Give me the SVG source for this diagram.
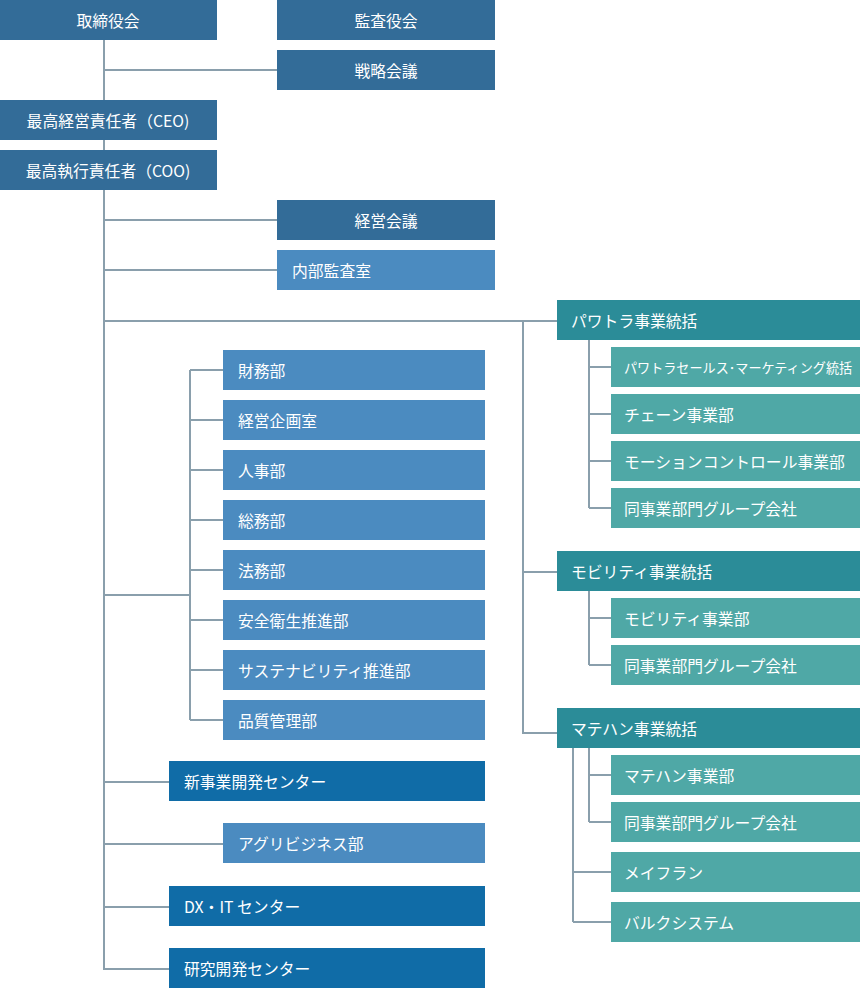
<svg xmlns="http://www.w3.org/2000/svg" width="860" height="990" viewBox="0 0 860 990">
<style>
text{font-family:"Noto Sans CJK JP","Noto Sans",sans-serif;font-size:15.8px;fill:#fff;dominant-baseline:central}
.c{text-anchor:middle}
.d{fill:#336c98}
.m{fill:#4b8bc0}
.k{fill:#106ca7}
.t{fill:#2b8c98}
.l{fill:#4fa8a6}
#conn path{fill:none;stroke:#8a9fac;stroke-width:2}
</style>
<rect width="860" height="990" fill="#fff"/>
<g id="conn">
<path d="M104 40V970M104 70H277M104 220H277M104 270H277M104 321H557M523 321V733H557M523 572H557"/>
<path d="M104 595H190M190 370V720M190 370H223M190 420H223M190 470H223M190 520H223M190 570H223M190 620H223M190 670H223M190 720H223"/>
<path d="M104 782H169M104 844H223M104 907H169M104 969H169"/>
<path d="M589 340V508M589 367H611M589 414H611M589 461H611M589 508H611"/>
<path d="M589 591V665M589 618H611M589 665H611"/>
<path d="M589 748V822M589 775H611M589 822H611M573 748V922M573 872H611M573 922H611"/>
</g>
<g id="board"><rect class="d" x="0" y="0" width="217" height="40"/><text class="c" x="108" y="20">取締役会</text></g>
<g id="audit"><rect class="d" x="277" y="0" width="218" height="40"/><text class="c" x="386" y="20">監査役会</text></g>
<g id="strategy"><rect class="d" x="277" y="50" width="218" height="40"/><text class="c" x="386" y="70">戦略会議</text></g>
<g id="ceo"><rect class="d" x="0" y="100" width="217" height="40"/><text class="c" x="108" y="120">最高経営責任者（CEO)</text></g>
<g id="coo"><rect class="d" x="0" y="150" width="217" height="40"/><text class="c" x="108" y="170">最高執行責任者（COO)</text></g>
<g id="mgmt"><rect class="d" x="277" y="200" width="218" height="40"/><text class="c" x="386" y="220">経営会議</text></g>
<g id="internal"><rect class="m" x="277" y="250" width="218" height="40"/><text x="292" y="270">内部監査室</text></g>
<g id="s1"><rect class="m" x="223" y="350" width="262" height="40"/><text x="238" y="370">財務部</text></g>
<g id="s2"><rect class="m" x="223" y="400" width="262" height="40"/><text x="238" y="420">経営企画室</text></g>
<g id="s3"><rect class="m" x="223" y="450" width="262" height="40"/><text x="238" y="470">人事部</text></g>
<g id="s4"><rect class="m" x="223" y="500" width="262" height="40"/><text x="238" y="520">総務部</text></g>
<g id="s5"><rect class="m" x="223" y="550" width="262" height="40"/><text x="238" y="570">法務部</text></g>
<g id="s6"><rect class="m" x="223" y="600" width="262" height="40"/><text x="238" y="620">安全衛生推進部</text></g>
<g id="s7"><rect class="m" x="223" y="650" width="262" height="40"/><text x="238" y="670">サステナビリティ推進部</text></g>
<g id="s8"><rect class="m" x="223" y="700" width="262" height="40"/><text x="238" y="720">品質管理部</text></g>
<g id="newbiz"><rect class="k" x="169" y="761" width="316" height="40"/><text x="184" y="781">新事業開発センター</text></g>
<g id="agri"><rect class="m" x="223" y="823" width="262" height="40"/><text x="238" y="843">アグリビジネス部</text></g>
<g id="dx"><rect class="k" x="169" y="886" width="316" height="40"/><text x="184" y="906">DX・IT センター</text></g>
<g id="rd"><rect class="k" x="169" y="948" width="316" height="40"/><text x="184" y="968">研究開発センター</text></g>
<g id="pt"><rect class="t" x="557" y="300" width="303" height="40"/><text x="571" y="320">パワトラ事業統括</text></g>
<g id="pt1"><rect class="l" x="611" y="347" width="249" height="40"/><text x="624" y="367" style="font-size:13.1px">パワトラセールス･マーケティング統括</text></g>
<g id="pt2"><rect class="l" x="611" y="394" width="249" height="40"/><text x="624" y="414">チェーン事業部</text></g>
<g id="pt3"><rect class="l" x="611" y="441" width="249" height="40"/><text x="624" y="461">モーションコントロール事業部</text></g>
<g id="pt4"><rect class="l" x="611" y="488" width="249" height="40"/><text x="624" y="508">同事業部門グループ会社</text></g>
<g id="mb"><rect class="t" x="557" y="551" width="303" height="40"/><text x="571" y="571">モビリティ事業統括</text></g>
<g id="mb1"><rect class="l" x="611" y="598" width="249" height="40"/><text x="624" y="618">モビリティ事業部</text></g>
<g id="mb2"><rect class="l" x="611" y="645" width="249" height="40"/><text x="624" y="665">同事業部門グループ会社</text></g>
<g id="mh"><rect class="t" x="557" y="708" width="303" height="40"/><text x="571" y="728">マテハン事業統括</text></g>
<g id="mh1"><rect class="l" x="611" y="755" width="249" height="40"/><text x="624" y="775">マテハン事業部</text></g>
<g id="mh2"><rect class="l" x="611" y="802" width="249" height="40"/><text x="624" y="822">同事業部門グループ会社</text></g>
<g id="mh3"><rect class="l" x="611" y="852" width="249" height="40"/><text x="624" y="872">メイフラン</text></g>
<g id="mh4"><rect class="l" x="611" y="902" width="249" height="40"/><text x="624" y="922">バルクシステム</text></g>
</svg>
